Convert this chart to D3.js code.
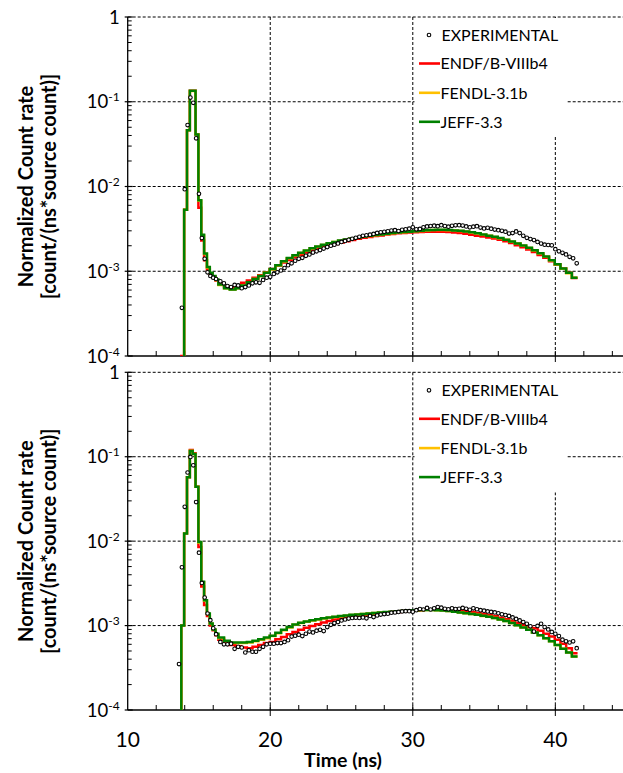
<!DOCTYPE html>
<html><head><meta charset="utf-8">
<script src="https://cdn.jsdelivr.net/npm/d3@7"></script>
<style>body{margin:0;background:#fff;} svg{display:block;font-family:Lato,"Open Sans",sans-serif;}</style>
</head><body>
<svg id="c" width="623" height="773"></svg>
<script>
// ---------------- DATA ----------------
const seriesNames = ["EXPERIMENTAL", "ENDF/B-VIIIb4", "FENDL-3.1b", "JEFF-3.3"];
const xTickLabels = [10, 20, 30, 40];
const xMinorTicks = [12, 14, 16, 18, 22, 24, 26, 28, 32, 34, 36, 38, 42, 44];
const yTickValues = [1, 0.1, 0.01, 0.001, 0.0001];
const yTitleLines = ["Normalized Count rate", "[count/(ns*source count)]"];
const xTitle = "Time (ns)";

// simulation histogram bin edges (ns)
const simEdges = [13.76, 13.96, 14.16, 14.36, 14.56, 14.76, 14.96, 15.16, 15.36, 15.56, 15.76, 15.96, 16.16, 16.36,
  16.76, 17.16, 17.56, 17.96, 18.36, 18.76, 19.16, 19.56, 19.96, 20.36, 20.76, 21.16, 21.56, 21.96, 22.36,
  22.76, 23.16, 23.56, 23.96, 24.36, 24.76, 25.16, 25.56, 25.96, 26.36, 26.76, 27.16, 27.56, 27.96, 28.36,
  28.76, 29.16, 29.56, 29.96, 30.36, 30.76, 31.16, 31.56, 31.96, 32.36, 32.76, 33.16, 33.56, 33.96, 34.36,
  34.76, 35.16, 35.56, 35.96, 36.36, 36.76, 37.16, 37.56, 37.96, 38.36, 38.76, 39.16, 39.56, 39.96, 40.36,
  40.76, 41.16, 41.56];

// experimental time points (ns)
const expTimes = [13.6, 13.8, 14.0, 14.2, 14.4, 14.6, 14.8, 15.0, 15.2, 15.4, 15.6, 15.8, 16.0, 16.2,
  16.5, 16.75,
  17.0, 17.25, 17.5, 17.75, 18.0, 18.25, 18.5, 18.75, 19.0, 19.25, 19.5, 19.75,
  20.0, 20.25, 20.5, 20.75, 21.0, 21.25, 21.5, 21.75, 22.0, 22.25, 22.5, 22.75,
  23.0, 23.25, 23.5, 23.75, 24.0, 24.25, 24.5, 24.75, 25.0, 25.25, 25.5, 25.75,
  26.0, 26.25, 26.5, 26.75, 27.0, 27.25, 27.5, 27.75, 28.0, 28.25, 28.5, 28.75,
  29.0, 29.25, 29.5, 29.75, 30.0, 30.25, 30.5, 30.75, 31.0, 31.25, 31.5, 31.75,
  32.0, 32.25, 32.5, 32.75, 33.0, 33.25, 33.5, 33.75, 34.0, 34.25, 34.5, 34.75,
  35.0, 35.25, 35.5, 35.75, 36.0, 36.25, 36.5, 36.75, 37.0, 37.25, 37.5, 37.75,
  38.0, 38.25, 38.5, 38.75, 39.0, 39.25, 39.5, 39.75, 40.0, 40.25, 40.5, 40.75,
  41.0, 41.25, 41.5];

// ----- upper panel -----
const topExp = [null, 3.7e-4, 9.3e-3, 0.053, 0.112, 0.097, 0.037, 8.2e-3, 2.46e-3, 1.40e-3, 9.7e-4, 8.8e-4, 8.4e-4, 8.1e-4,
  7.6e-4, 7.2e-4,
  6.7e-4, 6.5e-4, 6.9e-4, 6.8e-4, 6.3e-4, 6.5e-4, 6.8e-4, 7.2e-4, 7.4e-4, 7.3e-4, 7.9e-4, 8.4e-4,
  8.6e-4, 9.3e-4, 9.7e-4, 1.02e-3, 1.09e-3, 1.18e-3, 1.24e-3, 1.33e-3, 1.40e-3, 1.44e-3, 1.52e-3, 1.58e-3,
  1.66e-3, 1.72e-3, 1.78e-3, 1.85e-3, 1.93e-3, 2.00e-3, 2.06e-3, 2.13e-3, 2.22e-3, 2.28e-3, 2.35e-3, 2.41e-3,
  2.48e-3, 2.55e-3, 2.62e-3, 2.66e-3, 2.70e-3, 2.76e-3, 2.83e-3, 2.88e-3, 2.92e-3, 2.96e-3, 3.02e-3, 3.05e-3,
  2.98e-3, 3.08e-3, 3.12e-3, 3.18e-3, 3.30e-3, 3.12e-3, 3.16e-3, 3.30e-3, 3.38e-3, 3.42e-3, 3.45e-3, 3.40e-3,
  3.50e-3, 3.42e-3, 3.36e-3, 3.44e-3, 3.48e-3, 3.50e-3, 3.46e-3, 3.38e-3, 3.30e-3, 3.36e-3, 3.40e-3, 3.28e-3,
  3.20e-3, 3.26e-3, 3.18e-3, 3.10e-3, 3.05e-3, 3.00e-3, 2.93e-3, 2.78e-3, 2.82e-3, 2.95e-3, 2.82e-3, 2.62e-3,
  2.48e-3, 2.40e-3, 2.33e-3, 2.22e-3, 2.12e-3, 2.06e-3, 2.04e-3, 2.02e-3, 1.82e-3, 1.72e-3, 1.65e-3, 1.58e-3,
  1.48e-3, 1.42e-3, 1.24e-3];

const topEndf = [1.0e-4, 5.3e-3, 0.046, 0.135, 0.135, 0.041, 5.6e-3, 2.3e-3, 1.35e-3, 1.05e-3, 9.2e-4, 8.5e-4, 7.8e-4,
  7.2e-4, 6.6e-4, 6.4e-4, 6.7e-4, 7.3e-4,
  7.8e-4, 8.4e-4, 9.0e-4, 9.7e-4, 1.06e-3,
  1.16e-3, 1.27e-3, 1.36e-3, 1.46e-3, 1.57e-3,
  1.66e-3, 1.76e-3, 1.85e-3, 1.93e-3, 2.01e-3,
  2.10e-3, 2.18e-3, 2.26e-3, 2.33e-3, 2.41e-3,
  2.48e-3, 2.54e-3, 2.60e-3, 2.65e-3, 2.71e-3,
  2.76e-3, 2.80e-3, 2.83e-3, 2.86e-3, 2.88e-3,
  2.90e-3, 2.92e-3, 2.93e-3, 2.93e-3, 2.92e-3,
  2.90e-3, 2.86e-3, 2.82e-3, 2.77e-3, 2.70e-3,
  2.63e-3, 2.57e-3, 2.50e-3, 2.44e-3, 2.36e-3,
  2.26e-3, 2.15e-3, 2.03e-3, 1.92e-3, 1.80e-3,
  1.69e-3, 1.56e-3, 1.44e-3, 1.31e-3, 1.19e-3,
  1.08e-3, 9.6e-4, 8.3e-4];

const topFendl = [8e-5, 5.3e-3, 0.046, 0.134, 0.134, 0.041, 6.8e-3, 2.65e-3, 1.60e-3, 1.11e-3, 9.5e-4, 8.7e-4, 7.9e-4,
  6.9e-4, 6.3e-4, 6.1e-4, 6.3e-4, 6.8e-4,
  7.4e-4, 8.1e-4, 8.8e-4, 9.6e-4, 1.05e-3,
  1.17e-3, 1.30e-3, 1.42e-3, 1.53e-3, 1.64e-3,
  1.75e-3, 1.86e-3, 1.95e-3, 2.04e-3, 2.13e-3,
  2.21e-3, 2.29e-3, 2.36e-3, 2.43e-3, 2.50e-3,
  2.56e-3, 2.61e-3, 2.66e-3, 2.71e-3, 2.76e-3,
  2.81e-3, 2.85e-3, 2.89e-3, 2.92e-3, 2.96e-3,
  2.99e-3, 3.03e-3, 3.06e-3, 3.07e-3, 3.07e-3,
  3.05e-3, 3.02e-3, 2.99e-3, 2.94e-3, 2.87e-3,
  2.79e-3, 2.70e-3, 2.62e-3, 2.54e-3, 2.45e-3,
  2.35e-3, 2.23e-3, 2.12e-3, 2.00e-3, 1.88e-3,
  1.76e-3, 1.62e-3, 1.48e-3, 1.34e-3, 1.20e-3,
  1.07e-3, 9.5e-4, 8.4e-4];

const topJeff = [8e-5, 5.3e-3, 0.046, 0.135, 0.135, 0.041, 6.9e-3, 2.7e-3, 1.62e-3, 1.12e-3, 9.6e-4, 8.8e-4, 8.0e-4,
  7.0e-4, 6.3e-4, 6.1e-4, 6.3e-4, 6.8e-4,
  7.4e-4, 8.1e-4, 8.8e-4, 9.6e-4, 1.06e-3,
  1.18e-3, 1.31e-3, 1.43e-3, 1.54e-3, 1.65e-3,
  1.76e-3, 1.87e-3, 1.96e-3, 2.05e-3, 2.14e-3,
  2.22e-3, 2.30e-3, 2.37e-3, 2.44e-3, 2.51e-3,
  2.57e-3, 2.62e-3, 2.67e-3, 2.72e-3, 2.77e-3,
  2.82e-3, 2.86e-3, 2.90e-3, 2.93e-3, 2.97e-3,
  3.00e-3, 3.04e-3, 3.07e-3, 3.08e-3, 3.08e-3,
  3.06e-3, 3.03e-3, 3.00e-3, 2.95e-3, 2.88e-3,
  2.80e-3, 2.71e-3, 2.63e-3, 2.55e-3, 2.46e-3,
  2.36e-3, 2.24e-3, 2.13e-3, 2.01e-3, 1.89e-3,
  1.77e-3, 1.63e-3, 1.49e-3, 1.35e-3, 1.21e-3,
  1.08e-3, 9.6e-4, 8.4e-4];

// ----- lower panel -----
const botExp = [3.5e-4, 4.9e-3, 0.0255, 0.065, 0.0995, 0.079, 0.029, 7.3e-3, 3.2e-3, 2.15e-3, 1.39e-3, 1.16e-3, 9.3e-4, 7.9e-4,
  6.4e-4, 6.0e-4,
  6.0e-4, 6.1e-4, 5.3e-4, 5.6e-4, 5.5e-4, 4.8e-4, 5.1e-4, 4.9e-4, 4.9e-4, 5.3e-4, 5.6e-4, 6.0e-4,
  6.1e-4, 6.1e-4, 6.2e-4, 6.2e-4, 6.4e-4, 6.7e-4, 7.4e-4, 7.6e-4, 7.8e-4, 7.5e-4, 8.0e-4, 8.5e-4,
  8.3e-4, 8.7e-4, 8.9e-4, 8.6e-4, 9.6e-4, 1.02e-3, 1.07e-3, 1.10e-3, 1.15e-3, 1.18e-3, 1.21e-3, 1.23e-3,
  1.24e-3, 1.23e-3, 1.25e-3, 1.22e-3, 1.30e-3, 1.26e-3, 1.32e-3, 1.35e-3, 1.37e-3, 1.38e-3, 1.42e-3, 1.43e-3,
  1.45e-3, 1.47e-3, 1.48e-3, 1.48e-3, 1.46e-3, 1.52e-3, 1.57e-3, 1.55e-3, 1.62e-3, 1.55e-3, 1.60e-3, 1.66e-3,
  1.63e-3, 1.58e-3, 1.56e-3, 1.60e-3, 1.57e-3, 1.58e-3, 1.62e-3, 1.58e-3, 1.54e-3, 1.60e-3, 1.56e-3, 1.52e-3,
  1.50e-3, 1.47e-3, 1.45e-3, 1.43e-3, 1.40e-3, 1.36e-3, 1.33e-3, 1.30e-3, 1.25e-3, 1.20e-3, 1.15e-3, 1.10e-3,
  1.05e-3, 9.8e-4, 8.5e-4, 9.9e-4, 1.05e-3, 9.6e-4, 9.0e-4, 8.4e-4, 8.0e-4, 7.5e-4, 6.8e-4, 6.5e-4,
  6.3e-4, 6.5e-4, 5.4e-4];

const botEndf = [1.0e-3, 0.0123, 0.057, 0.12, 0.11, 0.044, 8.5e-3, 2.9e-3, 1.75e-3, 1.3e-3, 1.0e-3, 8.8e-4, 7.7e-4,
  6.8e-4, 6.2e-4, 5.9e-4, 5.7e-4, 5.5e-4,
  5.4e-4, 5.6e-4, 5.9e-4, 6.2e-4, 6.4e-4,
  6.9e-4, 7.3e-4, 7.9e-4, 8.4e-4, 8.9e-4,
  9.4e-4, 9.9e-4, 1.04e-3, 1.09e-3, 1.13e-3,
  1.18e-3, 1.21e-3, 1.24e-3, 1.27e-3, 1.30e-3,
  1.32e-3, 1.35e-3, 1.37e-3, 1.39e-3, 1.41e-3,
  1.43e-3, 1.45e-3, 1.47e-3, 1.49e-3, 1.50e-3,
  1.52e-3, 1.54e-3, 1.55e-3, 1.55e-3, 1.55e-3,
  1.54e-3, 1.53e-3, 1.51e-3, 1.48e-3, 1.45e-3,
  1.41e-3, 1.37e-3, 1.33e-3, 1.29e-3, 1.24e-3,
  1.19e-3, 1.13e-3, 1.08e-3, 1.02e-3, 9.7e-4,
  9.3e-4, 8.7e-4, 8.0e-4, 7.4e-4, 6.8e-4,
  6.1e-4, 5.4e-4, 4.7e-4];

const botFendl = [1.0e-3, 0.0123, 0.057, 0.118, 0.108, 0.044, 9.6e-3, 3.25e-3, 1.97e-3, 1.37e-3, 1.05e-3, 8.9e-4, 7.9e-4,
  7.1e-4, 6.5e-4, 6.2e-4, 6.2e-4, 6.2e-4,
  6.3e-4, 6.5e-4, 6.8e-4, 7.1e-4, 7.5e-4,
  8.1e-4, 8.8e-4, 9.5e-4, 1.02e-3, 1.07e-3,
  1.11e-3, 1.15e-3, 1.18e-3, 1.21e-3, 1.24e-3,
  1.26e-3, 1.29e-3, 1.31e-3, 1.33e-3, 1.35e-3,
  1.37e-3, 1.39e-3, 1.41e-3, 1.43e-3, 1.44e-3,
  1.46e-3, 1.47e-3, 1.49e-3, 1.50e-3, 1.51e-3,
  1.52e-3, 1.53e-3, 1.53e-3, 1.52e-3, 1.51e-3,
  1.49e-3, 1.46e-3, 1.43e-3, 1.40e-3, 1.37e-3,
  1.34e-3, 1.30e-3, 1.27e-3, 1.23e-3, 1.18e-3,
  1.13e-3, 1.07e-3, 1.01e-3, 9.5e-4, 8.9e-4,
  8.3e-4, 7.7e-4, 7.1e-4, 6.5e-4, 5.9e-4,
  5.3e-4, 4.8e-4, 4.3e-4];

const botJeff = [1.0e-3, 0.0123, 0.057, 0.117, 0.108, 0.044, 9.8e-3, 3.3e-3, 2.0e-3, 1.39e-3, 1.06e-3, 9.0e-4, 8.0e-4,
  7.2e-4, 6.6e-4, 6.3e-4, 6.3e-4, 6.3e-4,
  6.4e-4, 6.6e-4, 6.9e-4, 7.2e-4, 7.6e-4,
  8.2e-4, 8.9e-4, 9.6e-4, 1.03e-3, 1.08e-3,
  1.12e-3, 1.16e-3, 1.19e-3, 1.22e-3, 1.25e-3,
  1.27e-3, 1.30e-3, 1.32e-3, 1.34e-3, 1.35e-3,
  1.37e-3, 1.39e-3, 1.41e-3, 1.43e-3, 1.45e-3,
  1.46e-3, 1.48e-3, 1.49e-3, 1.51e-3, 1.52e-3,
  1.53e-3, 1.53e-3, 1.53e-3, 1.52e-3, 1.51e-3,
  1.49e-3, 1.46e-3, 1.43e-3, 1.40e-3, 1.37e-3,
  1.34e-3, 1.31e-3, 1.27e-3, 1.23e-3, 1.18e-3,
  1.13e-3, 1.07e-3, 1.01e-3, 9.5e-4, 8.9e-4,
  8.3e-4, 7.7e-4, 7.1e-4, 6.5e-4, 5.9e-4,
  5.3e-4, 4.8e-4, 4.3e-4];

// ---------------- STYLE / LAYOUT ----------------
const colors = {exp: "#000000", endf: "#ff0000", fendl: "#ffc000", jeff: "#008000"};
const W = 623, H = 773;
const svg = d3.select("#c");
const x = d3.scaleLinear().domain([10, 45]).range([127.7, 626.6]);
const X0 = x(10);

const panels = [
  {top: 17, bottom: 356, exp: topExp, sims: [topEndf, topFendl, topJeff], xLabels: false},
  {top: 372.3, bottom: 710, exp: botExp, sims: [botEndf, botFendl, botJeff], xLabels: true}
];
const simColors = [colors.endf, colors.fendl, colors.jeff];

panels.forEach((p, pi) => {
  const y = d3.scaleLog().domain([1e-4, 1]).range([p.bottom, p.top]);
  const g = svg.append("g");
  const cid = "clip" + pi;
  svg.append("clipPath").attr("id", cid).append("rect")
    .attr("x", X0).attr("y", p.top - 1).attr("width", W - X0).attr("height", p.bottom - p.top + 1);

  // horizontal dashed grid
  g.selectAll("line.hg").data(yTickValues.slice(0, 4)).join("line")
    .attr("x1", X0).attr("x2", W).attr("y1", d => y(d)).attr("y2", d => y(d))
    .attr("stroke", "#000").attr("stroke-width", 1).attr("stroke-dasharray", "3,2");
  // vertical dashed grid
  g.selectAll("line.vg").data(xTickLabels.slice(1)).join("line")
    .attr("x1", d => x(d)).attr("x2", d => x(d)).attr("y1", p.top).attr("y2", p.bottom)
    .attr("stroke", "#000").attr("stroke-width", 1).attr("stroke-dasharray", "3,2");

  // legend background + legend
  const lg = svg.append("g");
  lg.append("rect").attr("x", 414.5).attr("y", p.top + 1).attr("width", 152).attr("height", 119).attr("fill", "#fff");
  const rowY = [18, 46.5, 75.8, 104.8];
  seriesNames.forEach((name, i) => {
    const cy = p.top + rowY[i];
    if (i === 0) {
      lg.append("circle").attr("cx", 429).attr("cy", cy).attr("r", 1.8)
        .attr("fill", "#fff").attr("stroke", "#000").attr("stroke-width", 1.1);
    } else {
      lg.append("line").attr("x1", 419).attr("x2", 440).attr("y1", cy).attr("y2", cy)
        .attr("stroke", simColors[i - 1]).attr("stroke-width", 2.6);
    }
    lg.append("text").attr("x", i === 0 ? 441.5 : 440.5).attr("y", cy + 5.7)
      .attr("font-size", 16).attr("fill", "#000").text(name);
  });

  // axes
  g.append("line").attr("x1", X0).attr("x2", X0).attr("y1", p.top).attr("y2", p.bottom)
    .attr("stroke", "#000").attr("stroke-width", 1.3);
  g.append("line").attr("x1", X0).attr("x2", W).attr("y1", p.bottom).attr("y2", p.bottom)
    .attr("stroke", "#000").attr("stroke-width", 1.3);
  // x ticks
  g.selectAll("line.xm").data(xMinorTicks).join("line")
    .attr("x1", d => x(d)).attr("x2", d => x(d)).attr("y1", p.bottom).attr("y2", p.bottom - 5)
    .attr("stroke", "#000").attr("stroke-width", 1);
  g.selectAll("line.xM").data(xTickLabels.slice(1)).join("line")
    .attr("x1", d => x(d)).attr("x2", d => x(d)).attr("y1", p.bottom - 5).attr("y2", p.bottom + 6)
    .attr("stroke", "#000").attr("stroke-width", 1);
  // y minor ticks (log)
  const minors = [];
  [1e-4, 1e-3, 1e-2, 1e-1].forEach(b => { for (let k = 2; k <= 9; k++) minors.push(b * k); });
  g.selectAll("line.ym").data(minors).join("line")
    .attr("x1", X0).attr("x2", X0 + 4).attr("y1", d => y(d)).attr("y2", d => y(d))
    .attr("stroke", "#000").attr("stroke-width", 1);
  g.selectAll("line.yM").data(yTickValues).join("line")
    .attr("x1", X0 - 3).attr("x2", X0 + 5).attr("y1", d => y(d)).attr("y2", d => y(d))
    .attr("stroke", "#000").attr("stroke-width", 1.2);
  // y tick labels
  yTickValues.forEach(v => {
    const e = Math.round(Math.log10(v));
    const t = g.append("text").attr("x", X0 - 8).attr("y", y(v) + 6.5)
      .attr("text-anchor", "end").attr("font-size", 18.5).attr("fill", "#000");
    if (e === 0) { t.text("1"); }
    else {
      t.append("tspan").text("10");
      t.append("tspan").attr("font-size", 12).attr("dy", -7).text(String(e));
    }
  });
  // y title
  const cy = (p.top + p.bottom) / 2;
  yTitleLines.forEach((line, i) => {
    svg.append("text").attr("transform", `translate(${i === 0 ? 32.5 : 55.5},${cy}) rotate(-90)`)
      .attr("text-anchor", "middle").attr("font-size", 20).attr("font-weight", "bold")
      .attr("fill", "#000").text(line);
  });

  // simulation step histograms
  const line = d3.line().x(d => x(d[0])).y(d => y(Math.max(d[1], 1e-7)));
  const plot = svg.append("g").attr("clip-path", `url(#${cid})`);
  p.sims.forEach((vals, si) => {
    const n = Math.min(vals.length, simEdges.length - 1);
    const pts = [[simEdges[0], 1e-7]];
    for (let i = 0; i < n; i++) { pts.push([simEdges[i], vals[i]]); pts.push([simEdges[i + 1], vals[i]]); }
    plot.append("path").attr("d", line(pts)).attr("fill", "none")
      .attr("stroke", simColors[si]).attr("stroke-width", 2.5).attr("stroke-linejoin", "miter");
  });
  // experimental points
  const ep = expTimes.map((t, i) => [t, p.exp[i]]).filter(d => d[1] != null && d[1] > 0);
  plot.selectAll("circle").data(ep).join("circle")
    .attr("cx", d => x(d[0])).attr("cy", d => y(d[1])).attr("r", 1.8)
    .attr("fill", "#fff").attr("stroke", "#000").attr("stroke-width", 1.1);

  if (p.xLabels) {
    svg.selectAll("text.xl").data(xTickLabels).join("text")
      .attr("x", d => x(d)).attr("y", p.bottom + 36.5).attr("text-anchor", "middle")
      .attr("font-size", 21).attr("fill", "#000").text(d => d);
    svg.append("text").attr("x", 343).attr("y", p.bottom + 57).attr("text-anchor", "middle")
      .attr("font-size", 19.5).attr("font-weight", "bold").attr("fill", "#000").text(xTitle);
  }
});
</script>
</body></html>
